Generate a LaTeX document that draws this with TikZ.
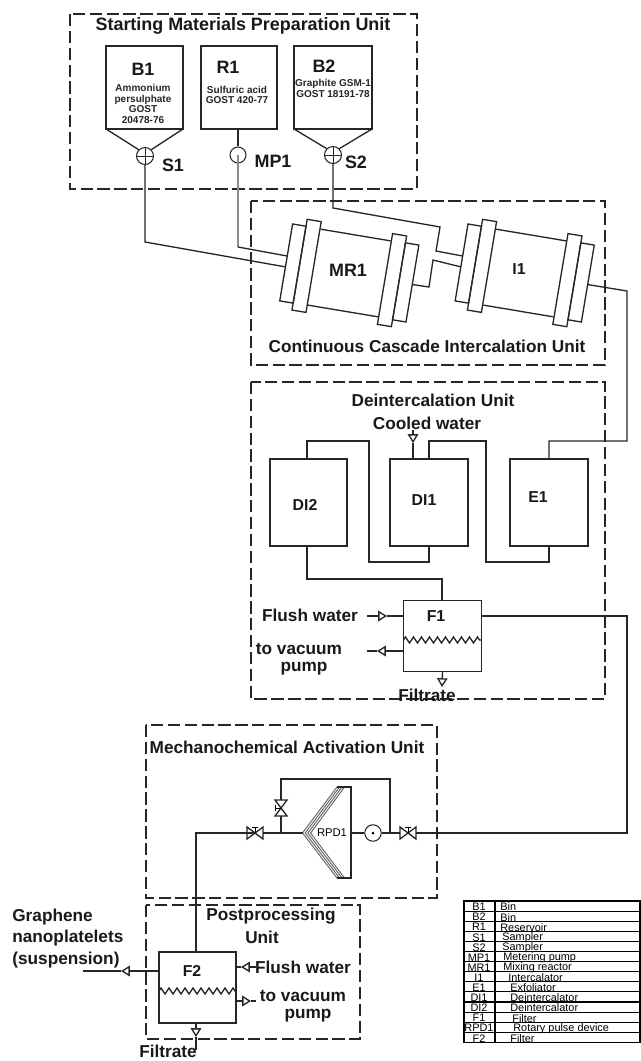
\documentclass[tikz,border=0pt]{standalone}
\usepackage{fontspec}
\setmainfont{Liberation Sans}
\usetikzlibrary{arrows.meta,decorations.pathmorphing}
\tikzset{
  pipe/.style={line width=0.75pt,black!85},
  feed/.style={pipe,-{Triangle[open,fill=white,length=5pt,width=6pt]}},
  unitbox/.style={line width=0.75pt,black!85,dash pattern=on 7pt off 2.6pt},
  vessel/.style={draw=black!85,line width=0.75pt,inner sep=0pt,outer sep=0pt,minimum width=1.56cm,minimum height=#1},
  vessel/.default=1.74cm,
  filterbox/.style={vessel=1.42cm},
  screen/.style={pipe,decorate,decoration={zigzag,segment length=0.16cm,amplitude=0.06cm}},
  title/.style={font=\fontsize{9.8}{10}\selectfont\bfseries,black!90,align=center,inner sep=0pt},
  tag/.style={font=\fontsize{10.2}{11}\selectfont\bfseries,black!90,inner sep=0pt},
  subtag/.style={font=\fontsize{9}{10}\selectfont\bfseries,black!90,inner sep=0pt},
  spec/.style={font=\fontsize{5.7}{6}\selectfont\bfseries,black!85,align=center,inner sep=0pt},
  cell/.style={font=\fontsize{6.2}{7}\selectfont,inner sep=0pt},
  sampler/.style={circle,draw=black!85,line width=0.6pt,minimum size=0.34cm,inner sep=0pt,
    path picture={\draw[line width=0.5pt] (path picture bounding box.north)--(path picture bounding box.south)
      (path picture bounding box.west)--(path picture bounding box.east);}},
  pumpbody/.style={circle,draw=black!85,line width=0.6pt,minimum size=#1,inner sep=0pt},
  reactor/.pic={
    \draw[pipe] (-35.5,-38.5) -- (35.5,-38.5) (-35.5,38.5) -- (35.5,38.5);
    \draw[pipe] (-64,-39) rectangle (-50.4,39);
    \draw[pipe] (-50.4,-46) rectangle (-36.2,46);
    \draw[pipe] (36.2,-46) rectangle (50.4,46);
    \draw[pipe] (50.4,-39) rectangle (64,39);
    \coordinate (-inup) at (-64,-6.5);
    \coordinate (-inlow) at (-64,4.5);
    \coordinate (-out) at (64,1);
  },
  valve/.pic={
    \draw[pipe,fill=white] (-8,-6) -- (8,6) -- (8,-6) -- (-8,6) -- cycle;
    \draw[line width=0.5pt] (0,0) -- (0,-6) (-3,-6) -- (3,-6);
  }
}

\begin{document}
\begin{tikzpicture}[x=0.02cm,y=-0.02cm]
    \useasboundingbox (0,0) rectangle (640,1061);
    \fill[white] (0,0) rectangle (640,1061);

    % Starting materials
    \draw[unitbox] (70,14) rectangle (417,189);
    \node[title,font=\fontsize{10.2}{11}\selectfont\bfseries] (startitle) at (243,26) {Starting Materials Preparation Unit};
    \node[vessel=1.66cm,minimum width=1.54cm] (B1) at (144.5,87.5) {};
    \node[vessel=1.66cm,minimum width=1.52cm] (R1) at (239,87.5) {};
    \node[vessel=1.66cm] (B2) at (333,87.5) {};
    \node[tag] (B1tag) at (143,69) {B1};
    \node[tag] (R1tag) at (228,67) {R1};
    \node[tag] (B2tag) at (324,66) {B2};
    \node[spec] (B1spec) at (143,104) {Ammonium\\persulphate\\GOST\\20478-76};
    \node[spec] (R1spec) at (237,95) {Sulfuric acid\\GOST 420-77};
    \node[spec] (B2spec) at (333,88.5) {Graphite GSM-1\\GOST 18191-78};
    \node[sampler] (S1) at (145,156) {};
    \node[pumpbody=0.32cm] (MP1) at (238,155) {};
    \node[sampler] (S2) at (333,155) {};
    \node[tag] (S1tag) at (173,165) {S1};
    \node[tag] (MP1tag) at (273,161) {MP1};
    \node[tag] (S2tag) at (356,162) {S2};
    \draw[pipe] (B1.south west) -- (S1.135) (B1.south east) -- (S1.45);
    \draw[pipe] (B2.south west) -- (S2.135) (B2.south east) -- (S2.45);
    \draw[pipe] (R1.south -| MP1) -- (MP1.north);

    % Intercalation
    \draw[unitbox] (251,201) rectangle (605,365);
    \pic[rotate=-9.5] (mr) at (349.3,273) {reactor};
    \pic[rotate=-9.5] (int) at (524.7,273) {reactor};
    \node[tag] (MR1) at (348,270) {MR1};
    \node[subtag] (I1) at (519,269) {I1};
    \node[title] (inttitle) at (427,346) {Continuous Cascade Intercalation Unit};
    \draw[pipe] (S1.south) -- (145,242) -- (mr-inlow);
    \draw[line width=0.8pt,black!45] (MP1.center) -- (238,247);
    \draw[pipe] (238,247) -- (mr-inup);
    \draw[pipe] (S2.south) -- (333,208) -- (440,227) -- (436,251) -- (int-inup);
    \draw[pipe] (mr-out) -- (429,287) -- (433,260) -- (int-inlow);

    % Deintercalation
    \draw[unitbox] (251,382) rectangle (605,699);
    \node[title] (deititle) at (433,400) {Deintercalation Unit};
    \node[title] (cooled) at (427,423) {Cooled water};
    \node[vessel,minimum width=1.54cm] (DI2) at (308.5,502.5) {};
    \node[vessel] (DI1) at (429,502.5) {};
    \node[vessel] (E1) at (549,502.5) {};
    \node[subtag] (DI2tag) at (305,505) {DI2};
    \node[subtag] (DI1tag) at (424,500) {DI1};
    \node[subtag] (E1tag) at (538,497) {E1};
    \node[filterbox] (F1) at (442.5,636) {};
    \node[subtag] (F1tag) at (436,616) {F1};
    \draw[screen] ([yshift=-0.08cm]F1.west) -- ([yshift=-0.08cm]F1.east);
    \draw[pipe] (int-out) -- (627,291) -- (627,441) -- (E1.north |- 0,441) -- (E1.north);
    \draw[pipe] (E1.south) -- (549,562) -- (486,562) -- (486,441) -- (429,441) -- (DI1.north);
    \draw[pipe] (DI1.south) -- (429,562) -- (369,562) -- (369,441) -- (307,441) -- (307,459);
    \draw[pipe] (307,546) -- (307,579) -- (442,579) -- (442,601);
    \coordinate (coolin) at (413,430);
    \coordinate (cooltip) at (413,443);
    \draw[feed] (coolin) -- (cooltip);
    \draw[pipe] (cooltip) -- (413,459);
    \node[title] (flushA) at (310,615) {Flush water};
    \coordinate (flushAend) at (367,616);
    \coordinate (flushAtip) at (387,616);
    \draw[feed] (flushAend) -- (flushAtip);
    \draw[pipe] (flushAtip) -- (403,616);
    \node[title] (vacA) at (299,659) {to vacuum\\[-0.5pt]\hspace{5.7pt}pump};
    \coordinate (vacAend) at (367,651);
    \coordinate (vacAtip) at (377,651);
    \draw[feed] (403,651) -- (vacAtip);
    \draw[pipe] (vacAtip) -- (vacAend);
    \node[title] (filtA) at (427,695) {Filtrate};
    \coordinate (filtAtip) at (442,687);
    \draw[feed] (F1.south) -- (filtAtip);

    % Mechanochemical activation
    \draw[unitbox] (146,725) rectangle (437,898);
    \node[title] (mechtitle) at (287,747) {Mechanochemical Activation Unit};
    \coordinate (Vin) at (255,833);
    \coordinate (Vby) at (281,808);
    \coordinate (Vout) at (408,833);
    \node[font=\fontsize{6.4}{7}\selectfont,inner sep=0pt] (RPD1) at (332,833) {RPD1};
    \node[pumpbody=0.33cm] (pump) at (373,833) {};
    \node[circle,fill=black,inner sep=0pt,minimum size=0.06cm] (pumpdot) at (pump) {};
    \foreach \i in {0,1,2,3}
      \draw[line width=0.55pt,black!60] ({337+2.5*\i},787) -- ({302.5+2.7*\i},833) -- ({337+2.5*\i},878);
    \draw[pipe] (337,787) -- (351,787) -- (351,878) -- (337,878);
    \draw[pipe] (351,833) -- (pump.west);
    \draw[pipe] (pump.east) -- (Vout);
    \draw[pipe] (Vout) -- (627,833) -- (627,616) -- (F1.east |- 0,616);
    \draw[pipe] (281,833) -- (281,779) -- (390,779) -- (390,833);
    \draw[pipe] (Vin) -- (302.5,833);
    \pic at (Vin) {valve};
    \pic[rotate=90] at (Vby) {valve};
    \pic at (Vout) {valve};

    % Postprocessing
    \draw[unitbox] (146,905) rectangle (360,1039);
    \node[title] (posttitle) at (271,916) {Postprocessing};
    \node[title] (postunit) at (262,937) {Unit};
    \node[filterbox,minimum width=1.54cm] (F2) at (197.5,987.5) {};
    \node[subtag] (F2tag) at (192,971) {F2};
    \draw[screen] ([yshift=-0.07cm]F2.west) -- ([yshift=-0.07cm]F2.east);
    \draw[pipe] (F2.north -| 196,0) -- (196,833) -- (Vin);
    \node[title] (flushB) at (303,967) {Flush water};
    \coordinate (flushBtip) at (241,967);
    \draw[feed] (256,967) -- (flushBtip);
    \draw[pipe] (flushBtip) -- (F2.east |- 0,967);
    \node[title] (vacB) at (303,1006) {to vacuum\\[-0.5pt]\hspace{5.7pt}pump};
    \coordinate (vacBtip) at (251,1001);
    \draw[feed] (F2.east |- 0,1001) -- (vacBtip);
    \draw[pipe] (vacBtip) -- (256,1001);
    \node[title,align=left,anchor=west] (graphene) at (12,938.5) {Graphene\\[2.2pt]nanoplatelets\\[2.2pt](suspension)};
    \coordinate (grapheneend) at (83,971);
    \coordinate (graphenetip) at (121,971);
    \draw[feed] (F2.west |- 0,971) -- (graphenetip);
    \draw[pipe] (graphenetip) -- (grapheneend);
    \node[title] (filtB) at (168,1051) {Filtrate};
    \coordinate (filtBtip) at (196,1037);
    \draw[feed] (196,1023) -- (filtBtip);
    \draw[pipe] (filtBtip) -- (196,1050);

    % Legend
    \foreach \k/\tg/\dx/\txt in {0/B1/500/Bin,1/B2/500/Bin,2/R1/500/Reservoir,3/S1/502/Sampler,4/S2/502/Sampler,
      5/MP1/503/Metering pump,6/MR1/503/Mixing reactor,7/I1/508/Intercalator,8/E1/510/Exfoliator,
      9/DI1/510/Deintercalator,10/DI2/510/Deintercalator,11/F1/512/Filter,12/RPD1/513/Rotary pulse device,13/F2/510/Filter}{
      \node[cell] (leg\k) at (479,{901+10.1*\k+6}) {\tg};
      \node[cell,anchor=west] (legtxt\k) at (\dx,{901+10.1*\k+6}) {\txt};
    }
    \draw[line width=0.6pt] (464,901) rectangle (640,1042.4);
    \draw[line width=0.6pt] (495,901) -- (495,1042.4);
    \foreach \k in {1,...,13}
      \draw[line width=0.6pt] (464,{901+10.1*\k}) -- (640,{901+10.1*\k});
\end{tikzpicture}
\end{document}
